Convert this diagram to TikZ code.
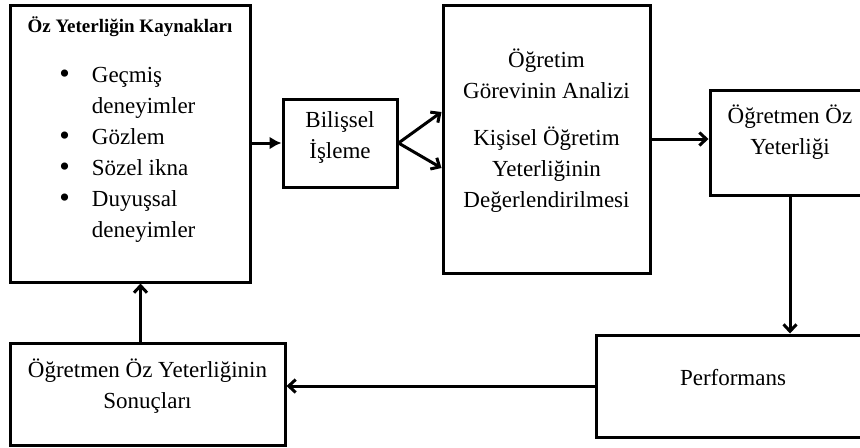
\documentclass[tikz,border=0pt]{standalone}
\usepackage{fontspec}
\setmainfont{Liberation Serif}
\usetikzlibrary{arrows.meta,positioning,calc}
\newcommand{\BoxText}{\fontsize{11.5}{15.5}\selectfont}
\newcommand{\BoxTitle}{\bfseries\fontsize{9.5}{12}\selectfont}
\newcommand{\ListDot}{\raisebox{-0.6pt}{\fontsize{15}{15}\selectfont\textbullet}}

\begin{document}
\begin{tikzpicture}[
  x=0.5pt, y=-0.5pt,
  every node/.style={font=\BoxText},
  frame/.style={rectangle, draw=black, line width=1.5pt, inner sep=0pt},
  boxtext/.style={align=center, inner sep=0pt},
  leader/.style={-{Straight Barb[length=3.5pt,width=6.5pt]}, line width=1.5pt}
]

% ---------- Canvas ----------
\useasboundingbox (0,0) rectangle (860,447);
\clip (0,0) rectangle (860,447);

% ---------- Frames ----------
\node[frame, minimum width=120pt, minimum height=138.5pt] (kaynak) at (130,143.5) {};
\node[frame, minimum width=57pt,  minimum height=44pt]    (bilis)  at (340,143) {};
\node[frame, minimum width=103.5pt, minimum height=134pt] (analiz) at (546.5,139) {};
\node[frame, minimum width=80pt,  minimum height=52.5pt]  (yeter)  at (790,142.5) {};
\node[frame, minimum width=137pt, minimum height=51pt]    (perf)   at (733,386) {};
\node[frame, minimum width=137.5pt, minimum height=51pt]  (sonuc)  at (147.5,394) {};

% ---------- Texts ----------
\node[boxtext, font=\BoxTitle] (kaynakT) at (130,27) {Öz Yeterliğin Kaynakları};
\node[inner sep=0pt, anchor=north west] (kaynakL) at (59,60) {%
  \begin{tabular}{@{}c@{\hspace{11pt}}l@{}}
    \ListDot & Geçmiş\\
             & deneyimler\\
    \ListDot & Gözlem\\
    \ListDot & Sözel ikna\\
    \ListDot & Duyuşsal\\
             & deneyimler
  \end{tabular}};
\node[boxtext] (bilisT) at (340,137) {Bilişsel\\İşleme};
\node[boxtext] (analizT) at (546.5,131) {Öğretim\\Görevinin Analizi\\[8pt]
  Kişisel Öğretim\\Yeterliğinin\\Değerlendirilmesi};
\node[boxtext] (yeterT) at (790,132) {Öğretmen Öz\\Yeterliği};
\node[boxtext] (perfT) at (733,377) {Performans};
\node[boxtext] (sonucT) at (147.5,386) {Öğretmen Öz Yeterliğinin\\Sonuçları};

% ---------- Leaders ----------
\draw[leader, -{Latex[length=6pt,width=6.5pt]}] (kaynak.east |- bilis.west) -- (bilis.west);
\draw[leader] (bilis.east) -- ([yshift=13.5pt]analiz.west);
\draw[leader] (bilis.east) -- ([yshift=-14.5pt]analiz.west);
\draw[leader] (analiz.east) -- (analiz.east -| yeter.west);
\draw[leader] (yeter.south) -- (yeter.south |- perf.north);
\draw[leader] (perf.west) -- (perf.west -| sonuc.east);
\draw[leader] ([xshift=-3.5pt]sonuc.north) -- ([xshift=-3.5pt]sonuc.north |- kaynak.south);

\end{tikzpicture}
\end{document}
